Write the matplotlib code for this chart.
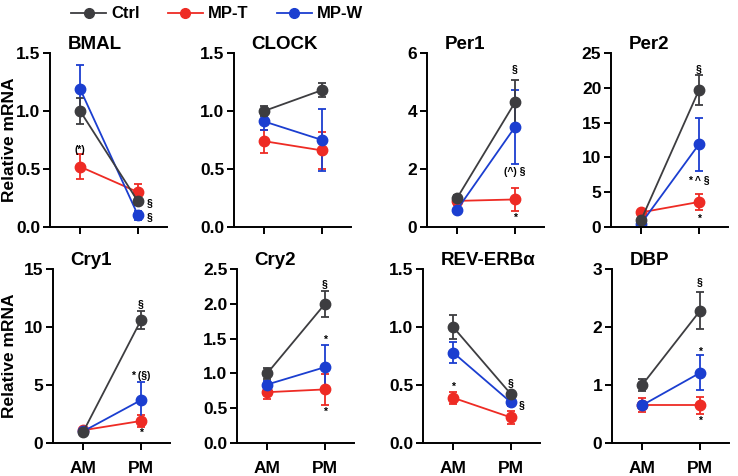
import numpy as np
import matplotlib
matplotlib.use('Agg')
from matplotlib import pyplot as plt
from matplotlib.lines import Line2D

plt.rcParams['font.family'] = ['Liberation Sans', 'DejaVu Sans']
plt.rcParams['font.weight'] = 'bold'

genes = ['BMAL', 'CLOCK', 'Per1', 'Per2', 'Cry1', 'Cry2', 'REV-ERBα', 'DBP']
groups = ['Ctrl', 'MP-T', 'MP-W']
colors = {'Ctrl': '#3d3d40', 'MP-T': '#ee2b24', 'MP-W': '#1b3ed0'}
times = ['AM', 'PM']

# mean values [AM, PM]
ctrl_mean = [[1.0, 0.22], [1.0, 1.18], [1.0, 4.3], [1.0, 19.7],
             [0.95, 10.6], [1.0, 2.0], [1.0, 0.42], [1.0, 2.28]]
mpt_mean = [[0.52, 0.30], [0.74, 0.66], [0.9, 0.95], [2.1, 3.6],
            [1.1, 1.9], [0.73, 0.77], [0.39, 0.22], [0.65, 0.65]]
mpw_mean = [[1.19, 0.10], [0.91, 0.75], [0.6, 3.45], [0.5, 11.9],
            [1.0, 3.7], [0.84, 1.09], [0.78, 0.35], [0.65, 1.21]]

# error bars [AM, PM]
ctrl_err = [[0.11, 0.03], [0.04, 0.06], [0.1, 0.77], [0.3, 2.2],
            [0.2, 0.75], [0.08, 0.19], [0.1, 0.03], [0.1, 0.32]]
mpt_err = [[0.11, 0.07], [0.1, 0.16], [0.15, 0.4], [0.3, 1.1],
           [0.2, 0.5], [0.1, 0.22], [0.05, 0.06], [0.12, 0.15]]
mpw_err = [[0.21, 0.04], [0.07, 0.27], [0.05, 1.28], [0.3, 3.8],
           [0.1, 1.6], [0.05, 0.32], [0.09, 0.03], [0.05, 0.3]]

ylims = [1.5, 1.5, 6, 25, 15, 2.5, 1.5, 3]
yticks = [[0, 0.5, 1.0, 1.5], [0, 0.5, 1.0, 1.5], [0, 2, 4, 6],
          [0, 5, 10, 15, 20, 25], [0, 5, 10, 15], [0, 0.5, 1.0, 1.5, 2.0, 2.5],
          [0, 0.5, 1.0, 1.5], [0, 1, 2, 3]]
ytick_fmt = ['{:.1f}', '{:.1f}', '{:.0f}', '{:.0f}', '{:.0f}', '{:.1f}',
             '{:.1f}', '{:.0f}']

# significance marks: (gene index, x, y, text)
marks = [
    (0, 0, 0.66, '(*)'), (0, 1.2, 0.21, '§'), (0, 1.2, 0.09, '§'),
    (2, 1, 5.45, '§'), (2, 1, 1.9, '(^) §'), (2, 1, 0.3, '*'),
    (3, 1, 22.7, '§'), (3, 1, 6.8, '* ^ §'), (3, 1, 1.2, '*'),
    (4, 1, 12.0, '§'), (4, 1, 5.8, '* (§)'), (4, 1, 0.85, '*'),
    (5, 1, 2.28, '§'), (5, 1, 1.48, '*'), (5, 1, 0.45, '*'),
    (6, 0, 0.48, '*'), (6, 1, 0.52, '§'), (6, 1.18, 0.33, '§'),
    (7, 1, 2.77, '§'), (7, 1, 1.58, '*'), (7, 1, 0.38, '*'),
]

fig = plt.figure(figsize=(7.38, 4.76), dpi=100)
W, H = 738.0, 476.0
lefts = [[50, 234, 427, 611], [53, 237, 423, 612]]
bottoms = [227, 443]
aw, ah = 117, 174

axes = []
x = np.array([0, 1])
for i, gene in enumerate(genes):
    row, col = divmod(i, 4)
    l = lefts[row][col]
    ax = fig.add_axes([l / W, 1 - bottoms[row] / H, aw / W, ah / H])
    axes.append(ax)
    for grp, m, e in [('MP-T', mpt_mean, mpt_err), ('MP-W', mpw_mean, mpw_err),
                      ('Ctrl', ctrl_mean, ctrl_err)]:
        ax.errorbar(x, m[i], yerr=e[i], color=colors[grp], marker='o',
                    markersize=7.5, linewidth=1.3, elinewidth=1.3,
                    capsize=3, capthick=1.3)
    ax.set_xlim(-0.52, 1.5)
    ax.set_ylim(0, ylims[i])
    ax.set_yticks(yticks[i])
    ax.set_yticklabels([ytick_fmt[i].format(t) for t in yticks[i]])
    ax.set_xticks([0, 1])
    if row == 1:
        ax.set_xticklabels(times, fontsize=14)
    else:
        ax.set_xticklabels(['', ''])
    ax.spines['top'].set_visible(False)
    ax.spines['right'].set_visible(False)
    ax.spines['left'].set_linewidth(1.4)
    ax.spines['bottom'].set_linewidth(1.4)
    ax.tick_params(width=1.4, length=5, labelsize=12.5, pad=2)
    ax.tick_params(axis='x', pad=8)
    ax.text(0.15, 1.0, gene, transform=ax.transAxes, fontsize=13.5,
            fontweight='bold', ha='left', va='bottom')

# y labels for both rows
for row in range(2):
    yc = 1 - (bottoms[row] - ah / 2) / H
    fig.text(10 / W, yc, 'Relative mRNA', rotation=90, fontsize=12.5,
             fontweight='bold', ha='center', va='center')

for gi, mx, my, txt in marks:
    axes[gi].text(mx, my, txt, fontsize=7.5, fontweight='bold',
                  ha='center', va='center', color='black')

handles = [Line2D([0], [0], color=colors[g], marker='o', markersize=7,
                  linewidth=1.3) for g in groups]
fig.legend(handles, groups, loc='center', bbox_to_anchor=(217 / W, 1 - 14 / H),
           ncol=3, frameon=False, fontsize=12, handlelength=2.1,
           columnspacing=1.7, handletextpad=0.3)

plt.savefig('out.png', dpi=100)
